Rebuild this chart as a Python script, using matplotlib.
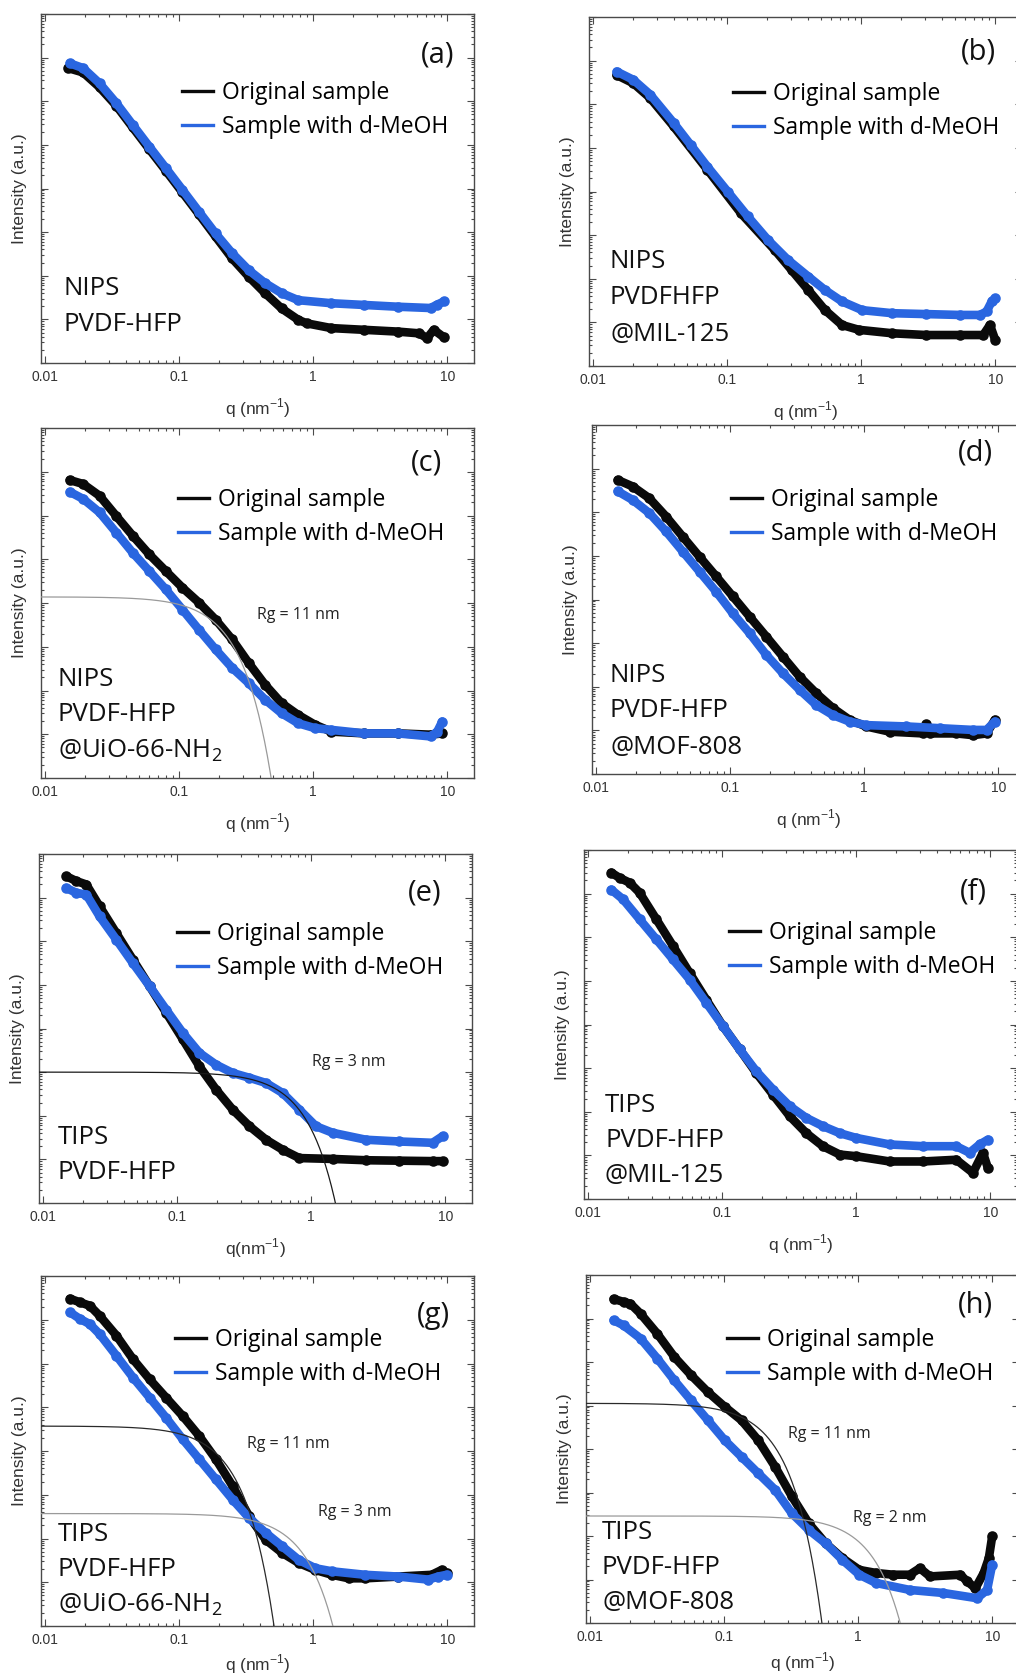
import numpy as np
import matplotlib
matplotlib.use("Agg")
import matplotlib.pyplot as plt
from matplotlib.lines import Line2D
from matplotlib.ticker import LogLocator, NullFormatter, FixedLocator, FixedFormatter

plt.rcParams['mathtext.fontset'] = 'custom'
plt.rcParams['mathtext.rm'] = 'Open Sans'
plt.rcParams['mathtext.sf'] = 'Liberation Sans'

# ---------------------------------------------------------------------------
# SANS curves: log10(q / nm^-1) and log10(intensity, a.u.) for each sample
# ---------------------------------------------------------------------------
# (a) NIPS PVDF-HFP
logq_a_orig = [-1.827, -1.716, -1.593, -1.469, -1.346, -1.222, -1.099, -0.975, -0.852, -0.728, -0.605,
               -0.481, -0.358, -0.235, -0.111, -0.049, 0.136, 0.383, 0.630, 0.790, 0.850, 0.900, 0.975]
logI_a_orig = [6.76, 6.66, 6.32, 5.90, 5.40, 4.90, 4.41, 3.91, 3.41, 2.90, 2.40,
               1.98, 1.60, 1.25, 0.99, 0.91, 0.80, 0.76, 0.72, 0.68, 0.57, 0.76, 0.59]
logq_a_meoh = [-1.815, -1.716, -1.593, -1.469, -1.346, -1.222, -1.099, -0.975, -0.852, -0.728, -0.605,
               -0.481, -0.358, -0.235, -0.111, 0.136, 0.383, 0.630, 0.876, 0.926, 0.975]
logI_a_meoh = [6.87, 6.76, 6.41, 5.96, 5.46, 4.96, 4.47, 3.97, 3.47, 2.97, 2.52,
               2.13, 1.83, 1.60, 1.44, 1.37, 1.33, 1.29, 1.26, 1.34, 1.41]

# (b) NIPS PVDFHFP@MIL-125
logq_b_orig = [-1.824, -1.699, -1.573, -1.398, -1.147, -0.896, -0.645, -0.519, -0.394, -0.269, -0.143,
               -0.018, 0.233, 0.484, 0.735, 0.911, 0.961, 1.000]
logI_b_orig = [6.67, 6.48, 6.14, 5.49, 4.50, 3.50, 2.66, 2.20, 1.74, 1.28, 0.94,
               0.83, 0.75, 0.71, 0.71, 0.71, 0.94, 0.60]
logq_b_meoh = [-1.824, -1.699, -1.573, -1.398, -1.272, -1.147, -0.996, -0.846, -0.695, -0.545, -0.394,
               -0.269, -0.143, 0.008, 0.233, 0.484, 0.735, 0.886, 0.936, 0.974, 1.000]
logI_b_meoh = [6.75, 6.56, 6.22, 5.57, 5.07, 4.57, 4.00, 3.43, 2.89, 2.43, 2.05,
               1.74, 1.48, 1.28, 1.21, 1.19, 1.17, 1.17, 1.25, 1.48, 1.55]

# (c) NIPS PVDF-HFP@UiO-66-NH2
logq_c_orig = [-1.815, -1.716, -1.593, -1.469, -1.346, -1.222, -1.099, -0.975, -0.852, -0.728, -0.605,
               -0.481, -0.358, -0.235, -0.111, 0.012, 0.136, 0.383, 0.630, 0.877, 0.963]
logI_c_orig = [6.81, 6.72, 6.45, 5.99, 5.54, 5.11, 4.73, 4.35, 4.01, 3.62, 3.17,
               2.63, 2.13, 1.71, 1.44, 1.22, 1.06, 1.02, 1.02, 0.99, 1.02]
logq_c_meoh = [-1.815, -1.716, -1.593, -1.469, -1.346, -1.222, -1.099, -0.975, -0.852, -0.728, -0.605,
               -0.481, -0.358, -0.235, -0.111, 0.012, 0.136, 0.383, 0.630, 0.877, 0.926, 0.963]
logI_c_meoh = [6.54, 6.38, 6.07, 5.61, 5.15, 4.73, 4.31, 3.85, 3.39, 2.94, 2.52,
               2.17, 1.79, 1.48, 1.25, 1.14, 1.10, 1.02, 1.02, 0.95, 1.06, 1.29]

# (d) NIPS PVDF-HFP@MOF-808
logq_d_orig = [-1.838, -1.726, -1.602, -1.477, -1.353, -1.228, -1.104, -0.979, -0.855, -0.730, -0.606,
               -0.481, -0.357, -0.233, -0.108, 0.016, 0.191, 0.440, 0.465, 0.490, 0.689, 0.813, 0.913, 0.975]
logI_d_orig = [6.74, 6.59, 6.32, 5.90, 5.44, 4.98, 4.53, 4.07, 3.61, 3.15, 2.69,
               2.23, 1.85, 1.51, 1.24, 1.09, 0.97, 0.93, 1.14, 0.93, 0.93, 0.89, 0.93, 1.24]
logq_d_meoh = [-1.838, -1.726, -1.602, -1.477, -1.353, -1.228, -1.104, -0.979, -0.855, -0.730, -0.606,
               -0.481, -0.357, -0.233, -0.108, 0.016, 0.315, 0.564, 0.813, 0.913, 0.975]
logI_d_meoh = [6.48, 6.28, 5.98, 5.56, 5.10, 4.64, 4.18, 3.68, 3.23, 2.73, 2.31,
               1.93, 1.58, 1.35, 1.20, 1.12, 1.09, 1.05, 1.01, 1.01, 1.20]

# (e) TIPS PVDF-HFP
logq_e_orig = [-1.826, -1.752, -1.677, -1.578, -1.454, -1.330, -1.205, -1.081, -0.957, -0.833, -0.709,
               -0.585, -0.460, -0.336, -0.212, -0.088, 0.160, 0.409, 0.657, 0.906, 0.980]
logI_e_orig = [7.49, 7.38, 7.30, 6.80, 6.19, 5.58, 4.97, 4.36, 3.75, 3.13, 2.60,
               2.14, 1.76, 1.45, 1.22, 1.03, 1.01, 0.98, 0.97, 0.96, 0.96]
logq_e_meoh = [-1.826, -1.752, -1.677, -1.578, -1.454, -1.330, -1.205, -1.081, -0.957, -0.833, -0.709,
               -0.585, -0.460, -0.336, -0.212, -0.088, 0.036, 0.160, 0.409, 0.657, 0.906, 0.980]
logI_e_meoh = [7.22, 7.11, 7.07, 6.57, 6.04, 5.50, 4.97, 4.43, 3.90, 3.44, 3.17,
               2.98, 2.87, 2.75, 2.52, 2.14, 1.76, 1.61, 1.45, 1.41, 1.38, 1.53]

# (f) TIPS PVDF-HFP@MIL-125
logq_f_orig = [-1.826, -1.764, -1.689, -1.615, -1.490, -1.366, -1.242, -1.118, -0.993, -0.869, -0.745,
               -0.620, -0.496, -0.372, -0.248, -0.123, 0.001, 0.250, 0.498, 0.747, 0.871, 0.946, 0.983]
logI_f_orig = [7.48, 7.36, 7.25, 7.02, 6.41, 5.80, 5.18, 4.57, 3.96, 3.43, 2.89,
               2.39, 1.90, 1.51, 1.21, 1.02, 0.98, 0.86, 0.86, 0.90, 0.60, 1.06, 0.71]
logq_f_meoh = [-1.826, -1.739, -1.615, -1.490, -1.366, -1.242, -1.118, -0.993, -0.869, -0.745, -0.620,
               -0.496, -0.372, -0.248, -0.123, 0.001, 0.250, 0.498, 0.747, 0.846, 0.921, 0.983]
logI_f_meoh = [7.09, 6.87, 6.41, 5.95, 5.49, 5.03, 4.50, 3.96, 3.43, 2.93, 2.51,
               2.13, 1.86, 1.67, 1.51, 1.40, 1.25, 1.21, 1.21, 1.06, 1.25, 1.36]

# (g) TIPS PVDF-HFP@UiO-66-NH2
logq_g_orig = [-1.814, -1.740, -1.666, -1.592, -1.468, -1.344, -1.220, -1.097, -0.973, -0.849, -0.725,
               -0.601, -0.478, -0.354, -0.230, -0.107, 0.017, 0.141, 0.265, 0.389, 0.636, 0.884, 0.958, 0.995]
logI_g_orig = [7.48, 7.40, 7.32, 7.09, 6.64, 6.10, 5.64, 5.22, 4.80, 4.34, 3.81,
               3.20, 2.51, 1.97, 1.67, 1.44, 1.28, 1.17, 1.09, 1.09, 1.13, 1.17, 1.28, 1.21]
logq_g_meoh = [-1.814, -1.740, -1.666, -1.592, -1.468, -1.344, -1.220, -1.097, -0.973, -0.849, -0.725,
               -0.601, -0.478, -0.354, -0.230, -0.107, 0.017, 0.141, 0.389, 0.636, 0.859, 0.933, 0.995]
logI_g_meoh = [7.17, 7.02, 6.90, 6.67, 6.18, 5.68, 5.22, 4.76, 4.27, 3.81, 3.35,
               2.89, 2.47, 2.13, 1.82, 1.51, 1.32, 1.25, 1.17, 1.13, 1.06, 1.13, 1.17]

# (h) TIPS PVDF-HFP@MOF-808
logq_h_orig = [-1.824, -1.749, -1.699, -1.623, -1.498, -1.372, -1.247, -1.121, -0.995, -0.870, -0.745,
               -0.619, -0.494, -0.368, -0.242, -0.117, 0.009, 0.134, 0.260, 0.385, 0.460, 0.536, 0.762,
               0.812, 0.875, 0.937, 0.975, 1.000]
logI_h_orig = [7.45, 7.38, 7.34, 7.11, 6.65, 6.12, 5.70, 5.31, 4.97, 4.66, 4.20,
               3.59, 2.91, 2.29, 1.83, 1.49, 1.22, 1.15, 1.11, 1.11, 1.26, 1.07, 1.11,
               0.96, 0.80, 1.15, 1.49, 1.99]
logq_h_meoh = [-1.824, -1.749, -1.623, -1.498, -1.372, -1.247, -1.121, -0.995, -0.870, -0.745, -0.619,
               -0.494, -0.368, -0.242, -0.117, 0.009, 0.134, 0.385, 0.636, 0.887, 0.962, 1.000]
logI_h_meoh = [6.96, 6.84, 6.54, 6.08, 5.58, 5.12, 4.66, 4.20, 3.82, 3.44, 3.06,
               2.52, 2.14, 1.83, 1.45, 1.11, 0.92, 0.76, 0.69, 0.57, 0.76, 1.34]

# Guinier fits: (Rg in nm, log10 I0, line colour)
guinier_c = [(11, 4.14, '#9a9a9a')]
guinier_e = [(3, 3.00, '#1a1a1a')]
guinier_g = [(11, 4.57, '#2a2a2a'), (3, 2.57, '#9a9a9a')]
guinier_h = [(11, 5.05, '#2a2a2a'), (2, 2.46, '#9a9a9a')]

# Panel annotations
sample_a = ["NIPS", "PVDF-HFP"]
sample_b = ["NIPS", "PVDFHFP", "@MIL-125"]
sample_c = ["NIPS", "PVDF-HFP", r"@UiO-66-NH$_{\mathrm{2}}$"]
sample_d = ["NIPS", "PVDF-HFP", "@MOF-808"]
sample_e = ["TIPS", "PVDF-HFP"]
sample_f = ["TIPS", "PVDF-HFP", "@MIL-125"]
sample_g = ["TIPS", "PVDF-HFP", r"@UiO-66-NH$_{\mathrm{2}}$"]
sample_h = ["TIPS", "PVDF-HFP", "@MOF-808"]

series_names = ["Original sample", "Sample with d-MeOH"]
x_ticks = [0.01, 0.1, 1, 10]
x_tick_labels = ["0.01", "0.1", "1", "10"]

BLACK = '#0a0a0a'
BLUE = '#2a66e0'
FRAME = '#4a4a4a'

W, H = 1016, 1679
fig = plt.figure(figsize=(W / 100, H / 100), dpi=100)


def fx(x):
    return x / W


def fy(y):
    return 1 - y / H


def make_axes(left, top, bottom):
    return fig.add_axes([fx(left), fy(bottom), 433 / W, (bottom - top) / H])


def draw_panel(ax, orig, meoh, fits, tag, tag_xy, leg_xy, samples, sample_x, sample_ys,
               rg_labels=(), xlabel=r"q (nm$^{\mathsf{-1}}$)", xlabelpad=9):
    for (lq, li), col in ((orig, BLACK), (meoh, BLUE)):
        ax.plot(10 ** np.asarray(lq), 10 ** np.asarray(li), '-o', color=col, lw=6.2,
                ms=7.6, mec=col, mew=0, solid_capstyle='round', solid_joinstyle='round', zorder=2)
    qfit = np.logspace(-2.1, 0.6, 500)
    for rg, li0, col in fits:
        ax.plot(qfit, 10 ** li0 * np.exp(-(qfit * rg) ** 2 / 3.0), color=col, lw=0.9, zorder=3)

    ax.set_xscale('log')
    ax.set_yscale('log')
    ax.set_xlim(10 ** -2.03, 10 ** 1.2)
    ax.set_ylim(1, 1e8)
    ax.xaxis.set_major_locator(FixedLocator(x_ticks))
    ax.xaxis.set_major_formatter(FixedFormatter(x_tick_labels))
    ax.xaxis.set_minor_locator(LogLocator(base=10, subs=np.arange(2, 10), numticks=50))
    ax.xaxis.set_minor_formatter(NullFormatter())
    ax.yaxis.set_major_locator(LogLocator(base=10, numticks=20))
    ax.yaxis.set_minor_locator(LogLocator(base=10, subs=np.arange(2, 10), numticks=200))
    ax.yaxis.set_major_formatter(NullFormatter())
    ax.yaxis.set_minor_formatter(NullFormatter())
    ax.tick_params(which='both', direction='in', top=True, right=True, color=FRAME, width=0.8)
    ax.tick_params(which='major', length=5, pad=5, labelsize=10, labelcolor='#333333')
    ax.tick_params(which='minor', length=2.5)
    for lab in ax.get_xticklabels():
        lab.set_fontfamily('Liberation Sans')
    for sp in ax.spines.values():
        sp.set_color(FRAME)
        sp.set_linewidth(1.0)
    ax.set_xlabel(xlabel, fontfamily='Liberation Sans', fontsize=12.5, color='#333333',
                  labelpad=xlabelpad)
    ax.set_ylabel("Intensity (a.u.)", fontfamily='Liberation Sans', fontsize=12.5,
                  color='#333333', labelpad=5)

    fig.text(fx(tag_xy[0]), fy(tag_xy[1]), tag, fontfamily='Open Sans', fontsize=21,
             ha='center', va='center', color='#111111')

    handles = [Line2D([], [], color=BLACK, lw=2.4), Line2D([], [], color=BLUE, lw=2.4)]
    ax.legend(handles, series_names, loc='center left', bbox_to_anchor=(fx(leg_xy[0]), fy(leg_xy[1])),
              bbox_transform=fig.transFigure, frameon=False, borderpad=0, borderaxespad=0,
              handlelength=1.35, handletextpad=0.4, labelspacing=0.42,
              prop={'family': 'Open Sans', 'size': 16.5})

    for s, yy in zip(samples, sample_ys):
        fig.text(fx(sample_x), fy(yy + 9), s, fontfamily='Open Sans', fontsize=18.5,
                 ha='left', va='baseline', color='#111111')
    for s, (xx, yy) in rg_labels:
        fig.text(fx(xx), fy(yy + 5.5), s, fontfamily='Open Sans', fontsize=11.5,
                 ha='left', va='baseline', color='#222222')


ax_a = make_axes(41, 14, 363)
draw_panel(ax_a, (logq_a_orig, logI_a_orig), (logq_a_meoh, logI_a_meoh), [], "(a)", (438, 55),
           (182, 110), sample_a, 63, [286, 322])

ax_b = make_axes(589, 17, 366)
draw_panel(ax_b, (logq_b_orig, logI_b_orig), (logq_b_meoh, logI_b_meoh), [], "(b)", (978, 52),
           (733, 111), sample_b, 610, [259, 295, 332])

ax_c = make_axes(41, 428, 778)
draw_panel(ax_c, (logq_c_orig, logI_c_orig), (logq_c_meoh, logI_c_meoh), guinier_c, "(c)", (427, 463),
           (178, 517), sample_c, 58, [677, 712, 748], rg_labels=[("Rg = 11 nm", (257, 613))])

ax_d = make_axes(592, 425, 774)
draw_panel(ax_d, (logq_d_orig, logI_d_orig), (logq_d_meoh, logI_d_meoh), [], "(d)", (975, 453),
           (731, 517), sample_d, 610, [673, 708, 745])

ax_e = make_axes(39, 854, 1203)
draw_panel(ax_e, (logq_e_orig, logI_e_orig), (logq_e_meoh, logI_e_meoh), guinier_e, "(e)", (425, 893),
           (177, 951), sample_e, 58, [1135, 1170], rg_labels=[("Rg = 3 nm", (312, 1061))],
           xlabel=r"q(nm$^{\mathsf{-1}}$)")

ax_f = make_axes(584, 850, 1199)
draw_panel(ax_f, (logq_f_orig, logI_f_orig), (logq_f_meoh, logI_f_meoh), [], "(f)", (973, 892),
           (729, 950), sample_f, 605, [1103, 1138, 1173])

ax_g = make_axes(41, 1276, 1626)
draw_panel(ax_g, (logq_g_orig, logI_g_orig), (logq_g_meoh, logI_g_meoh), guinier_g, "(g)", (433, 1315),
           (175, 1357), sample_g, 58, [1532, 1567, 1602],
           rg_labels=[("Rg = 11 nm", (247, 1443)), ("Rg = 3 nm", (318, 1510))], xlabelpad=4)

ax_h = make_axes(586, 1275, 1623)
draw_panel(ax_h, (logq_h_orig, logI_h_orig), (logq_h_meoh, logI_h_meoh), guinier_h, "(h)", (975, 1305),
           (727, 1357), sample_h, 602, [1530, 1565, 1600],
           rg_labels=[("Rg = 11 nm", (788, 1432)), ("Rg = 2 nm", (853, 1517))], xlabelpad=5)

fig.savefig("out.png", dpi=100, facecolor='white')
